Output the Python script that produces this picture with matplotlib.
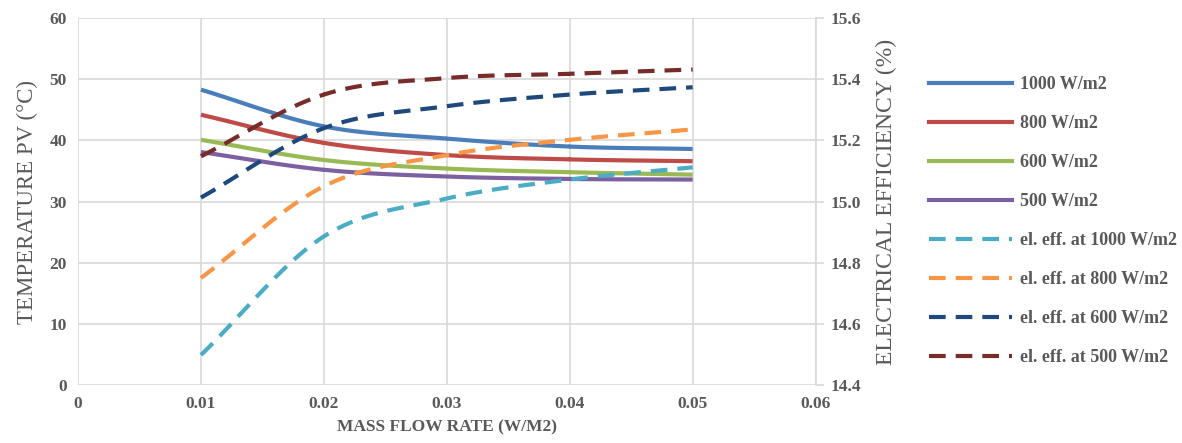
import numpy as np
import matplotlib.pyplot as plt
from matplotlib.lines import Line2D

# mass flow rate values
flow = [0.01, 0.02, 0.03, 0.04, 0.05]

# PV temperature (°C), left axis
temp_1000 = [48.3, 42.3, 40.3, 39.0, 38.6]
temp_800 = [44.2, 39.6, 37.6, 36.9, 36.6]
temp_600 = [40.1, 36.8, 35.4, 34.8, 34.4]
temp_500 = [38.1, 35.2, 34.1, 33.7, 33.6]

# electrical efficiency (%), right axis
eff_1000 = [14.498, 14.886, 15.010, 15.072, 15.112]
eff_800 = [14.750, 15.050, 15.152, 15.202, 15.236]
eff_600 = [15.013, 15.240, 15.312, 15.350, 15.374]
eff_500 = [15.148, 15.350, 15.404, 15.418, 15.432]

labels_temp = ['1000 W/m2', '800 W/m2', '600 W/m2', '500 W/m2']
labels_eff = ['el. eff. at 1000 W/m2', 'el. eff. at 800 W/m2',
              'el. eff. at 600 W/m2', 'el. eff. at 500 W/m2']

col_temp = ['#4a7ebb', '#be4b48', '#98b954', '#7d60a0']
col_eff = ['#4bacc6', '#f79646', '#1f497d', '#772c2a']


def smooth(x, y, n=30):
    # Catmull-Rom curve through the points, like Excel's smoothed line
    x = np.asarray(x, float)
    y = np.asarray(y, float)
    px = np.concatenate([[2 * x[0] - x[1]], x, [2 * x[-1] - x[-2]]])
    py = np.concatenate([[2 * y[0] - y[1]], y, [2 * y[-1] - y[-2]]])
    xs, ys = [], []
    t = np.linspace(0, 1, n)
    for i in range(1, len(px) - 2):
        for arr, out in ((px, xs), (py, ys)):
            p0, p1, p2, p3 = arr[i - 1], arr[i], arr[i + 1], arr[i + 2]
            out.extend(0.5 * ((2 * p1) + (-p0 + p2) * t
                              + (2 * p0 - 5 * p1 + 4 * p2 - p3) * t ** 2
                              + (-p0 + 3 * p1 - 3 * p2 + p3) * t ** 3))
    return np.array(xs), np.array(ys)


plt.rcParams['font.family'] = 'Liberation Serif'
grey = '#595959'
dash = (4.0, 2.4)

fig = plt.figure(figsize=(11.82, 4.43), dpi=100)
ax = fig.add_axes([0.066, 0.131, 0.624, 0.828])
ax2 = ax.twinx()

handles = []
for ys, c, lab in zip([temp_1000, temp_800, temp_600, temp_500], col_temp, labels_temp):
    sx, sy = smooth(flow, ys)
    ax.plot(sx, sy, color=c, lw=3, solid_capstyle='butt')
    handles.append(Line2D([], [], color=c, lw=3, label=lab))

for ys, c, lab in zip([eff_1000, eff_800, eff_600, eff_500], col_eff, labels_eff):
    sx, sy = smooth(flow, ys)
    ax2.plot(sx, sy, color=c, lw=3, dashes=dash)
    handles.append(Line2D([], [], color=c, lw=3, dashes=dash, label=lab))

ax.set_xlim(0, 0.06)
ax.set_ylim(0, 60)
ax2.set_ylim(14.4, 15.6)
ax.set_xticks([0, 0.01, 0.02, 0.03, 0.04, 0.05, 0.06])
ax.set_xticklabels(['0', '0.01', '0.02', '0.03', '0.04', '0.05', '0.06'])
ax.set_yticks(range(0, 61, 10))
ax2.set_yticks([14.4, 14.6, 14.8, 15.0, 15.2, 15.4, 15.6])
ax2.set_yticklabels(['14.4', '14.6', '14.8', '15.0', '15.2', '15.4', '15.6'])

ax.grid(True, color='#d9d9d9', lw=1.2)
ax.set_axisbelow(True)
for a in (ax, ax2):
    for s in a.spines.values():
        s.set_visible(False)
ax2.spines['right'].set_visible(True)
ax2.spines['right'].set_color('#d9d9d9')
ax2.spines['right'].set_linewidth(1.2)

ax.tick_params(axis='both', length=0, labelsize=12.5, labelcolor=grey, pad=8)
ax2.tick_params(axis='y', length=6, width=1.2, color='#d9d9d9', labelsize=12.5,
                labelcolor=grey, pad=5)
for lbl in ax.get_xticklabels() + ax.get_yticklabels() + ax2.get_yticklabels():
    lbl.set_fontweight('bold')

ax.set_xlabel('MASS FLOW RATE (W/M2)', color=grey, fontsize=12.5, fontweight='bold', labelpad=5)
ax.set_ylabel('TEMPERATURE PV (°C)', color=grey, fontsize=16.5, labelpad=8)
ax2.set_ylabel('ELECTRICAL EFFICIENCY (%)', color=grey, fontsize=17, labelpad=10)

leg = fig.legend(handles=handles, loc='upper left', bbox_to_anchor=(0.772, 0.865),
                 frameon=False, handlelength=4.6, handletextpad=0.45,
                 labelspacing=1.22, prop={'family': 'Liberation Serif', 'weight': 'bold', 'size': 13})
for t in leg.get_texts():
    t.set_color(grey)

fig.savefig('out.png', dpi=100)
